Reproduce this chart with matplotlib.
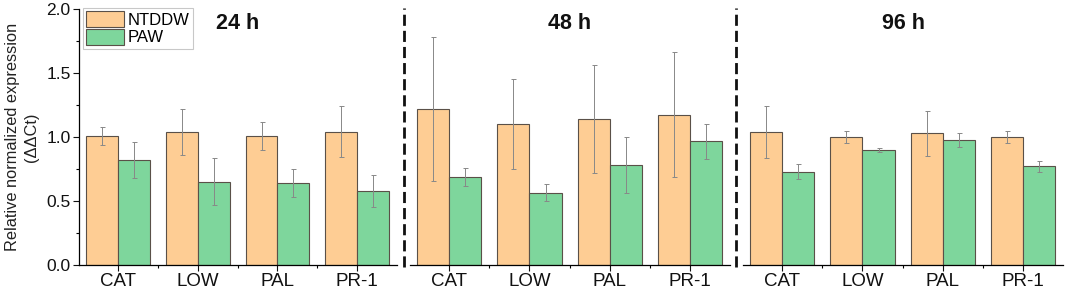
import matplotlib

matplotlib.use("Agg")
import matplotlib.pyplot as plt
import numpy as np
from matplotlib.lines import Line2D
from matplotlib.patches import Patch
from matplotlib.ticker import MultipleLocator, FormatStrFormatter

plt.rcParams["font.family"] = ["Liberation Sans", "DejaVu Sans"]

ORANGE, GREEN, EDGE, ERR, INK = "#FECD94", "#7ED69C", "#5a5048", "#888888", "#111111"

GENES = ["CAT", "LOW", "PAL", "PR-1"]
TIMES = ["24 h", "48 h", "96 h"]

NTDDW_24 = [1.01, 1.04, 1.01, 1.04]
NTDDW_24_ERR = [0.07, 0.18, 0.11, 0.20]
PAW_24 = [0.82, 0.65, 0.64, 0.58]
PAW_24_ERR = [0.14, 0.185, 0.11, 0.125]

NTDDW_48 = [1.22, 1.10, 1.14, 1.175]
NTDDW_48_ERR = [0.56, 0.35, 0.425, 0.49]
PAW_48 = [0.69, 0.565, 0.78, 0.965]
PAW_48_ERR = [0.07, 0.066, 0.22, 0.14]

NTDDW_96 = [1.04, 1.00, 1.03, 1.00]
NTDDW_96_ERR = [0.205, 0.046, 0.175, 0.047]
PAW_96 = [0.73, 0.90, 0.98, 0.77]
PAW_96_ERR = [0.057, 0.017, 0.055, 0.043]

PANELS = [
    (NTDDW_24, NTDDW_24_ERR, PAW_24, PAW_24_ERR),
    (NTDDW_48, NTDDW_48_ERR, PAW_48, PAW_48_ERR),
    (NTDDW_96, NTDDW_96_ERR, PAW_96, PAW_96_ERR),
]


def main():
    W, H = 1065, 289
    fig = plt.figure(figsize=(W / 100, H / 100), dpi=100)
    fig.patch.set_facecolor("white")

    # axes boxes in pixels: (left, right); y=0 at 265 px, y=2 at 9 px
    boxes = [(79, 397), (410, 730), (743, 1063)]
    bottom, top = 265, 9
    x = np.arange(len(GENES))
    w = 0.4
    err_kw = dict(ecolor=ERR, elinewidth=0.7, capsize=1.8, capthick=0.7)

    axes = []
    for k, ((l, r), (nt, nt_err, pw, pw_err)) in enumerate(zip(boxes, PANELS)):
        ax = fig.add_axes([l / W, (H - bottom) / H, (r - l) / W, (bottom - top) / H])
        axes.append(ax)
        ax.bar(x - w / 2, nt, w, yerr=nt_err, color=ORANGE, edgecolor=EDGE,
               lw=0.8, error_kw=err_kw, label="NTDDW")
        ax.bar(x + w / 2, pw, w, yerr=pw_err, color=GREEN, edgecolor=EDGE,
               lw=0.8, error_kw=err_kw, label="PAW")
        ax.set_xlim(-0.49, 3.5)
        ax.set_ylim(0, 2.0)
        ax.set_xticks(x)
        ax.set_xticklabels(GENES, fontsize=13.5, color=INK)
        ax.set_xticks(x[:-1] + 0.5, minor=True)
        ax.tick_params(axis="x", which="major", length=4, width=0.8, pad=1.5, colors=INK)
        ax.tick_params(axis="x", which="minor", length=2.5, width=0.8)
        for s in ("top", "right"):
            ax.spines[s].set_visible(False)
        ax.spines["bottom"].set_linewidth(0.9)
        ax.text(0.5, 0.945, TIMES[k], transform=ax.transAxes, ha="center",
                va="center", fontsize=15.5, weight="bold", color=INK)
        if k == 0:
            ax.yaxis.set_major_locator(MultipleLocator(0.5))
            ax.yaxis.set_minor_locator(MultipleLocator(0.25))
            ax.yaxis.set_major_formatter(FormatStrFormatter("%.1f"))
            ax.tick_params(axis="y", which="major", length=4, width=0.8,
                           labelsize=12.5, colors=INK, pad=2)
            ax.tick_params(axis="y", which="minor", length=2.5, width=0.8)
            ax.spines["left"].set_linewidth(0.9)
            ax.set_ylabel("Relative normalized expression\n(ΔΔCt)", fontsize=11.8,
                          color="#222222", labelpad=5, linespacing=1.35)
        else:
            ax.spines["left"].set_visible(False)
            ax.set_yticks([])

    handles = [Patch(facecolor=ORANGE, edgecolor=EDGE, lw=0.8, label="NTDDW"),
               Patch(facecolor=GREEN, edgecolor=EDGE, lw=0.8, label="PAW")]
    leg = axes[0].legend(handles=handles, loc="upper left", bbox_to_anchor=(0.012, 1.005),
                         fontsize=12, frameon=True, fancybox=False, handlelength=2.3,
                         handleheight=1.1, labelspacing=0.05, borderpad=0.2,
                         handletextpad=0.2, borderaxespad=0)
    leg.get_frame().set_edgecolor("#bbbbbb")
    leg.get_frame().set_linewidth(0.8)

    # dashed separators between time points
    for px in (403.5, 736):
        fig.add_artist(Line2D([px / W, px / W], [(H - 267) / H, (H - 8) / H],
                              color="#111111", lw=2, ls=(0, (4, 1.8))))

    fig.savefig("out.png", dpi=100, facecolor="white")


if __name__ == "__main__":
    main()
